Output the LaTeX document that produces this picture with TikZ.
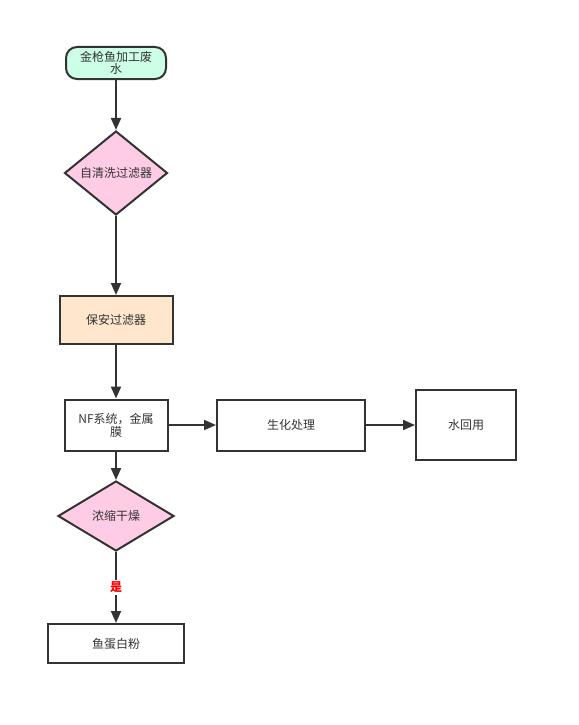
\documentclass[tikz,border=0pt]{standalone}
\usepackage{fontspec}
\setmainfont{Noto Sans CJK SC}
\usetikzlibrary{shapes.geometric,arrows.meta}
\definecolor{mint}{HTML}{CCFFE6}
\definecolor{rose}{HTML}{FFCCE6}
\definecolor{peach}{HTML}{FFE6CC}
\definecolor{ink}{HTML}{333333}

\begin{document}
\begin{tikzpicture}[x=1pt,y=-1pt,->,>={Stealth[length=12pt,width=10pt,inset=0pt]},line width=2pt,draw=ink,
    every node/.style={font=\fontsize{12}{14}\selectfont,text=ink,align=center,draw=ink,line width=2pt,inner sep=0pt},
    start node/.style={rectangle,rounded corners=11pt,fill=mint,minimum width=100pt,minimum height=32pt},
    test node/.style={diamond,fill=rose},
    main node/.style={rectangle,minimum width=103pt,minimum height=51pt}]

            \useasboundingbox (0,0) rectangle (578,725);

            \node[start node] (1) at (116,63) {金枪鱼加工废\\[-2pt]水};
            \node[test node, aspect=1.23, minimum width=103pt, minimum height=84pt] (2) [below of = 1, node distance=110pt]{自清洗过滤器};
            \node[main node, fill=peach, minimum width=113pt, minimum height=48pt] (3) [below of = 2, node distance=147pt]{保安过滤器};
            \node[main node] (4) [below of = 3, node distance=105pt]{NF系统，金属\\[-1pt]膜};
            \node[main node, minimum width=148pt] (5) [right of = 4, node distance=175pt]{生化处理};
            \node[main node, minimum width=100pt, minimum height=70pt] (6) [right of = 5, node distance=175pt]{水回用};
            \node[test node, aspect=1.66, minimum width=116pt, minimum height=70pt] (7) [below of = 4, node distance=91pt]{浓缩干燥};
            \node[main node, minimum width=136pt, minimum height=39pt] (8) [below of = 7, node distance=127.5pt]{鱼蛋白粉};

            \path[every node/.style={font=\fontsize{12}{14}\selectfont\bfseries,text=red,fill=white,inner sep=2pt}]
                (1) edge (2)
                (2) edge (3)
                (3) edge (4)
                (4) edge (5)
                (5) edge (6)
                (4) edge (7)
                (7) edge node[pos=0.5]{是} (8)
            ;
        \end{tikzpicture}
\end{document}
